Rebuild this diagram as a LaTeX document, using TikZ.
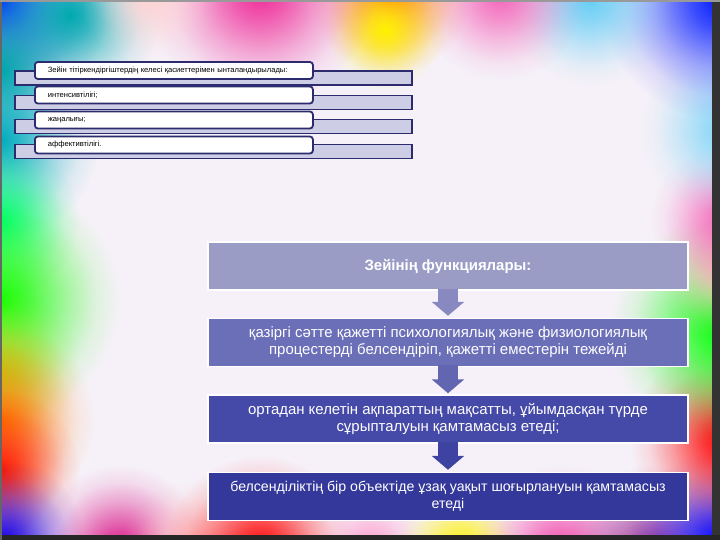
\documentclass[tikz,border=0pt]{standalone}
\usepackage{fontspec}
\setmainfont{Liberation Sans}
\usetikzlibrary{positioning,fadings,arrows.meta}

\definecolor{navy}{HTML}{2B2B6E}
\definecolor{barfill}{HTML}{CDCDE6}
\definecolor{paper}{HTML}{F6F1F8}
\definecolor{funcA}{HTML}{9A9CC6}
\definecolor{funcB}{HTML}{6B6FB7}
\definecolor{funcC}{HTML}{4549A7}
\definecolor{funcD}{HTML}{33389A}
\definecolor{arrA}{HTML}{8789C0}
\definecolor{arrB}{HTML}{6266B0}
\definecolor{arrC}{HTML}{3E42A0}

% soft glow: white = opaque, black = clear
\pgfdeclareradialshading{glowshade}{\pgfpointorigin}{color(0bp)=(white);
  color(6bp)=(white!75!black); color(14bp)=(white!35!black);
  color(20bp)=(white!10!black); color(25bp)=(black); color(50bp)=(black)}
\pgfdeclarefading{glowfade}{\pgfuseshading{glowshade}}

\begin{document}
\begin{tikzpicture}[x=1bp, y=-1bp,
    glow/.style = {path fading=glowfade},
    listbar/.style = {draw=navy, line width=1.8bp, fill=barfill,
      minimum width=397bp, minimum height=14bp, inner sep=0pt},
    listitem/.style = {draw=navy, line width=1.8bp, fill=white,
      rounded corners=3bp, text width=252bp, inner xsep=13bp, inner ysep=0pt,
      minimum height=17bp, align=left, font=\fontsize{7.6}{8}\selectfont},
    funcbox/.style = {draw=white, line width=1.5bp, minimum width=480bp,
      minimum height=48bp, inner sep=0pt, text=white, align=center,
      font=\fontsize{15}{17}\selectfont},
    funcarrow/.style = {line width=20bp, -{Triangle[width=32bp,length=14bp]}}]

  % background
  \useasboundingbox (0,0) rectangle (720,540);
  \begin{scope}
    \clip (0,0) rectangle (720,540);
    \fill[paper] (0,0) rectangle (720,540);
    \foreach \cx/\cy/\r/\col in {
        0/0/110/blue!80!cyan, 70/15/90/cyan!60!green, 0/70/80/teal!70!cyan,
        0/140/100/cyan!70!green, 0/220/80/green!50!cyan,
        0/300/120/green!90!lime, 0/370/80/yellow!70!green, 0/420/95/orange,
        0/470/80/red!80!orange,
        5/540/80/blue!80!violet, 120/550/85/magenta!80!violet, 190/550/70/pink,
        260/550/95/red, 370/550/60/pink!80!magenta,
        460/550/65/yellow, 560/550/85/magenta!70, 650/550/85/violet!80,
        720/540/90/blue, 725/440/95/red, 725/330/115/green, 725/270/70/pink,
        725/220/75/magenta!60, 725/130/85/cyan!50, 720/0/120/blue!90!cyan,
        590/0/85/cyan!60, 500/-5/85/magenta!60, 390/-5/80/orange!90!red,
        385/30/60/yellow, 260/-10/115/magenta!80!pink, 150/-5/70/pink!70} {
      \fill[\col, glow] (\cx,\cy) circle (\r bp);
    }
    % frame
    \fill[black!80] (712,0) rectangle (720,540);
    \fill[black!85] (0,535) rectangle (720,540);
    \fill[black!60] (0,0) rectangle (2,540);
    \fill[black!40] (0,0) rectangle (720,2);
  \end{scope}

  % list on the left
  \node[listbar, anchor=west] (bar1) at (14,78) {};
  \node[listbar, anchor=west] (bar2) at (14,102.5) {};
  \node[listbar, anchor=west] (bar3) at (14,126.5) {};
  \node[listbar, anchor=west] (bar4) at (14,151.5) {};
  \node[listitem, anchor=west] (item1) at ([xshift=20bp, yshift=7.5bp]bar1.west)
    {Зейін тітіркендіргіштердің келесі қасиеттерімен ынталандырылады:};
  \node[listitem, anchor=west] (item2) at ([xshift=20bp, yshift=7.5bp]bar2.west)
    {интенсивтілігі;};
  \node[listitem, anchor=west] (item3) at ([xshift=20bp, yshift=6.5bp]bar3.west)
    {жаңалығы;};
  \node[listitem, anchor=west] (item4) at ([xshift=20bp, yshift=6.5bp]bar4.west)
    {аффективтілігі.};

  % functions
  \node[funcbox, fill=funcA, font=\fontsize{15}{17}\selectfont\bfseries] (f1) at (448,266)
    {Зейінің функциялары:};
  \node[funcbox, fill=funcB, below=27bp of f1] (f2)
    {қазіргі сәтте қажетті психологиялық және физиологиялық\\
     процестерді белсендіріп, қажетті еместерін тежейді};
  \node[funcbox, fill=funcC, below=27bp of f2] (f3)
    {ортадан келетін ақпараттың мақсатты, ұйымдасқан түрде\\
     сұрыпталуын қамтамасыз етеді;};
  \node[funcbox, fill=funcD, below=28bp of f3, font=\fontsize{14.2}{17}\selectfont] (f4)
    {белсенділіктің бір объектіде ұзақ уақыт шоғырлануын қамтамасыз\\
     етеді};

  \draw[funcarrow, arrA] ([yshift=2bp]f1.south) -- ([yshift=2bp]f2.north);
  \draw[funcarrow, arrB] ([yshift=2bp]f2.south) -- ([yshift=1bp]f3.north);
  \draw[funcarrow, arrC] ([yshift=2bp]f3.south) -- ([yshift=2bp]f4.north);
\end{tikzpicture}
\end{document}
